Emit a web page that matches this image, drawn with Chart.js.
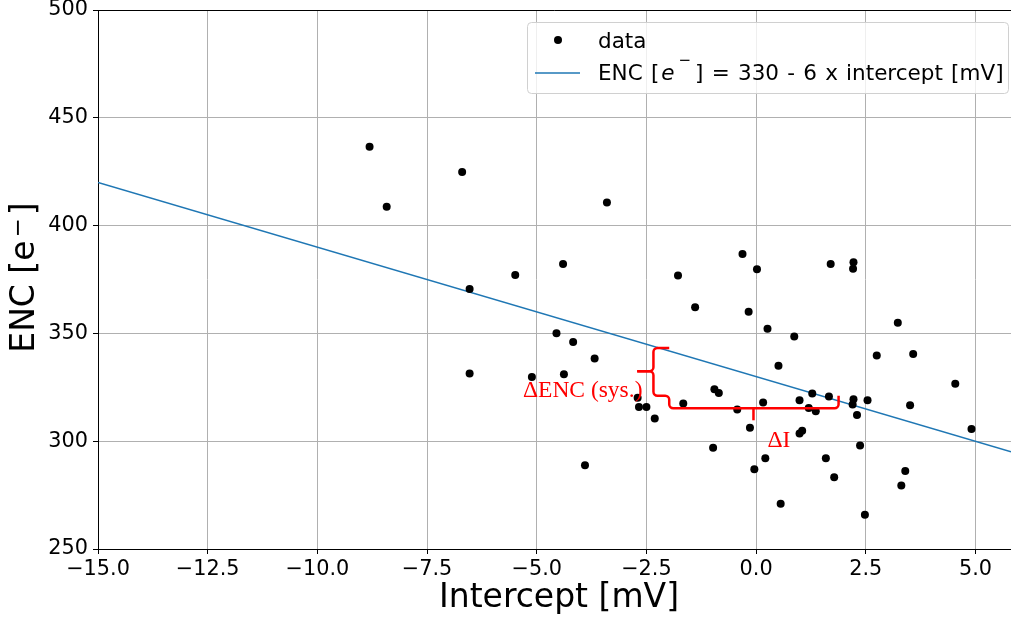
<!DOCTYPE html>
<html>
<head>
<meta charset="utf-8">
<title>ENC vs intercept</title>
<script src="https://cdn.jsdelivr.net/npm/chart.js@4.4.1/dist/chart.umd.min.js"></script>
<style>
  html, body { margin: 0; padding: 0; background: #fff; }
  #chart { display: block; }
</style>
</head>
<body>
<canvas id="chart" width="1011" height="619"></canvas>
<script>
// measured intercept per channel [mV] and its noise [e-]
const interceptMv = [
  -8.81, -8.42, -6.70, -3.40, -6.53, -5.49, -4.40, -4.55, -4.17, -3.68,
  -6.53, -5.11, -4.38, -2.70, -2.67, -2.50, -2.31, -3.90, -1.78, -1.39,
  -0.31, 0.02, -0.17, 0.26, 0.87, 0.51, 1.70, 2.22, 2.21, 3.23,
  2.75, 3.58, 4.54, 4.91, 3.51, -1.66, -0.95, -0.85, -0.43, 0.16,
  -0.14, -0.98, -0.04, 0.21, 0.56, 0.99, 1.28, 1.66, 1.20, 1.36,
  0.99, 1.05, 1.59, 1.78, 2.22, 2.20, 2.54, 2.30, 2.37, 3.40,
  3.31, 2.48
];
const encElectrons = [
  436.6, 408.8, 424.9, 410.7, 370.6, 377.1, 382.2, 350.1, 346.0, 338.4,
  331.4, 329.8, 331.1, 320.1, 315.9, 315.9, 310.5, 288.8, 376.8, 362.1,
  386.8, 379.7, 360.0, 352.1, 348.6, 335.0, 382.2, 383.0, 380.0, 354.9,
  339.8, 340.4, 326.6, 305.7, 316.7, 317.5, 324.1, 322.3, 314.7, 318.0,
  306.2, 297.0, 287.0, 292.1, 271.0, 319.0, 322.1, 320.7, 315.4, 313.9,
  303.6, 304.8, 292.1, 283.3, 319.5, 317.0, 319.0, 312.2, 298.0, 286.2,
  279.4, 265.9
];

// ENC = 330 - 6 * intercept
const fitOffset = 330;
const fitSlope = -6;

const xMin = -15, xMax = 5.81;
const yMin = 250, yMax = 500;
const xTicks = [-15, -12.5, -10, -7.5, -5, -2.5, 0, 2.5, 5];
const yTicks = [250, 300, 350, 400, 450, 500];

// braces marking the systematic ENC offset and the intercept shift
const encBrace = { x: -2.34, tipX: -2.71, hookX: -1.98, top: 343.2, mid: 332.5, bottom: 321.1 };
const shiftBrace = { y: 315.3, tipY: 309.7, left: -1.98, mid: -0.06, right: 1.88, hookY: 321.1 };
const encLabel = { text: 'ΔENC (sys.)', x: -2.59, y: 320.6 };
const shiftLabel = { text: 'ΔI', x: 0.26, y: 297.2 };

const red = '#ff0000';
const blue = '#1f77b4';
const sans = 'DejaVu Sans';

const scatterPoints = interceptMv.map((x, i) => ({ x: x, y: encElectrons[i] }));
const fitLine = [xMin, xMax].map(x => ({ x: x, y: fitOffset + fitSlope * x }));

function minusSign(v) {
  return String(v).replace('-', '\u2212');
}

function font(size, style) {
  return (style ? style + ' ' : '') + size + 'px "' + sans + '"';
}

// draws text pieces one after another on a shared baseline; each piece
// may carry its own font, a raise and extra space before it
function drawPieces(ctx, pieces, x, y) {
  pieces.forEach(p => {
    ctx.font = p.font;
    x += p.gap || 0;
    ctx.fillText(p.text, x, y - (p.raise || 0));
    x += ctx.measureText(p.text).width;
  });
  return x;
}

function piecesWidth(ctx, pieces) {
  return pieces.reduce((w, p) => {
    ctx.font = p.font;
    return w + (p.gap || 0) + ctx.measureText(p.text).width;
  }, 0);
}

// polyline with slightly rounded corners, points given in data units
function bracePath(ctx, xs, ys, pts) {
  const p = pts.map(q => [xs.getPixelForValue(q[0]), ys.getPixelForValue(q[1])]);
  ctx.beginPath();
  ctx.moveTo(p[0][0], p[0][1]);
  for (let i = 1; i < p.length - 1; i++) {
    ctx.arcTo(p[i][0], p[i][1], p[i + 1][0], p[i + 1][1], 4);
  }
  ctx.lineTo(p[p.length - 1][0], p[p.length - 1][1]);
  ctx.stroke();
}

const annotations = {
  id: 'annotations',
  afterDatasetsDraw(chart) {
    const ctx = chart.ctx;
    const xs = chart.scales.x, ys = chart.scales.y;
    ctx.save();
    ctx.strokeStyle = red;
    ctx.lineWidth = 2.5;
    ctx.lineJoin = 'round';
    const b = encBrace, s = shiftBrace;
    bracePath(ctx, xs, ys, [[b.hookX, b.top], [b.x, b.top], [b.x, b.mid], [b.tipX, b.mid]]);
    bracePath(ctx, xs, ys, [[b.tipX, b.mid], [b.x, b.mid], [b.x, b.bottom], [s.left, b.bottom],
      [s.left, s.y], [s.right, s.y], [s.right, s.hookY]]);
    bracePath(ctx, xs, ys, [[s.mid, s.y], [s.mid, s.tipY]]);

    ctx.fillStyle = red;
    ctx.font = '23.5px "Liberation Serif", serif';
    ctx.textBaseline = 'alphabetic';
    ctx.textAlign = 'right';
    ctx.fillText(encLabel.text, xs.getPixelForValue(encLabel.x), ys.getPixelForValue(encLabel.y));
    ctx.textAlign = 'left';
    ctx.fillText(shiftLabel.text, xs.getPixelForValue(shiftLabel.x), ys.getPixelForValue(shiftLabel.y));
    ctx.restore();
  }
};

const frameAndLegend = {
  id: 'frameAndLegend',
  afterDraw(chart) {
    const ctx = chart.ctx;
    const ca = chart.chartArea;
    ctx.save();
    // top spine
    ctx.strokeStyle = '#000';
    ctx.lineWidth = 1;
    ctx.beginPath();
    ctx.moveTo(ca.left, ca.top + 0.5);
    ctx.lineTo(chart.width, ca.top + 0.5);
    ctx.stroke();

    ctx.fillStyle = '#000';
    ctx.textAlign = 'left';
    ctx.textBaseline = 'alphabetic';

    // axis titles
    ctx.font = font(33);
    ctx.fillText('Intercept [mV]', 559 - ctx.measureText('Intercept [mV]').width / 2, 607);

    const yTitle = [
      { text: 'ENC [e', font: font(33) },
      { text: '\u2212', font: font(23), gap: 3, raise: 8.5 },
      { text: ']', font: font(33), gap: 3 }
    ];
    ctx.save();
    ctx.translate(33.5, 277.5);
    ctx.rotate(-Math.PI / 2);
    drawPieces(ctx, yTitle, -piecesWidth(ctx, yTitle) / 2, 0);
    ctx.restore();

    // legend box
    const bx = 527, by = ca.top + 12, bw = 481, bh = 71;
    ctx.beginPath();
    ctx.roundRect(bx + 0.5, by + 0.5, bw, bh, 4);
    ctx.fillStyle = 'rgba(255,255,255,0.8)';
    ctx.fill();
    ctx.strokeStyle = '#d0d0d0';
    ctx.stroke();

    const row1 = by + 25.5, row2 = by + 58;
    const textX = bx + 71;
    ctx.fillStyle = '#000';
    ctx.beginPath();
    ctx.arc(bx + 31, by + 18, 4, 0, Math.PI * 2);
    ctx.fill();
    ctx.strokeStyle = blue;
    ctx.lineWidth = 1.5;
    ctx.beginPath();
    ctx.moveTo(bx + 8, by + 51);
    ctx.lineTo(bx + 53, by + 51);
    ctx.stroke();

    ctx.font = font(21.5);
    ctx.fillText('data', textX, row1);
    ctx.wordSpacing = '1.4px';
    drawPieces(ctx, [
      { text: 'ENC [', font: font(21.5) },
      { text: 'e', font: font(21.5, 'oblique'), gap: 2 },
      { text: '\u2212', font: font(15), gap: 4, raise: 15 },
      { text: '] = 330 - 6 x intercept [mV]', font: font(21.5), gap: 4 }
    ], textX, row2);
    ctx.restore();
  }
};

const tickFont = { family: sans, size: 20.8 };
const gridStyle = { color: '#b0b0b0', lineWidth: 1, tickLength: 5, tickColor: '#000' };

new Chart(document.getElementById('chart'), {
  type: 'scatter',
  data: {
    datasets: [
      {
        label: 'data',
        data: scatterPoints,
        pointRadius: 4,
        pointHoverRadius: 4,
        pointBackgroundColor: '#000',
        pointBorderWidth: 0,
        order: 1
      },
      {
        label: 'ENC [e-] = 330 - 6 x intercept [mV]',
        type: 'line',
        data: fitLine,
        borderColor: blue,
        borderWidth: 1.5,
        pointRadius: 0,
        fill: false,
        order: 2
      }
    ]
  },
  options: {
    responsive: false,
    animation: false,
    devicePixelRatio: 1,
    layout: { autoPadding: false, padding: { top: 10, right: 0, bottom: 0, left: 0 } },
    plugins: {
      legend: { display: false },
      tooltip: { enabled: false }
    },
    scales: {
      x: {
        type: 'linear',
        min: xMin,
        max: xMax,
        afterBuildTicks: s => { s.ticks = xTicks.map(v => ({ value: v })); },
        afterFit: s => { s.height = 70; s.paddingLeft = 0; s.paddingRight = 0; },
        ticks: {
          font: tickFont,
          color: '#000',
          padding: 3,
          maxRotation: 0,
          autoSkip: false,
          callback: v => minusSign(v.toFixed(1))
        },
        grid: gridStyle,
        border: { color: '#000', width: 1 },
        title: { display: false }
      },
      y: {
        type: 'linear',
        min: yMin,
        max: yMax,
        afterBuildTicks: s => { s.ticks = yTicks.map(v => ({ value: v })); },
        afterFit: s => { s.width = 98; s.paddingTop = 0; s.paddingBottom = 0; },
        ticks: {
          font: tickFont,
          color: '#000',
          padding: 5,
          callback: v => String(v)
        },
        grid: gridStyle,
        border: { color: '#000', width: 1 },
        title: { display: false }
      }
    }
  },
  plugins: [annotations, frameAndLegend]
});
</script>
</body>
</html>
